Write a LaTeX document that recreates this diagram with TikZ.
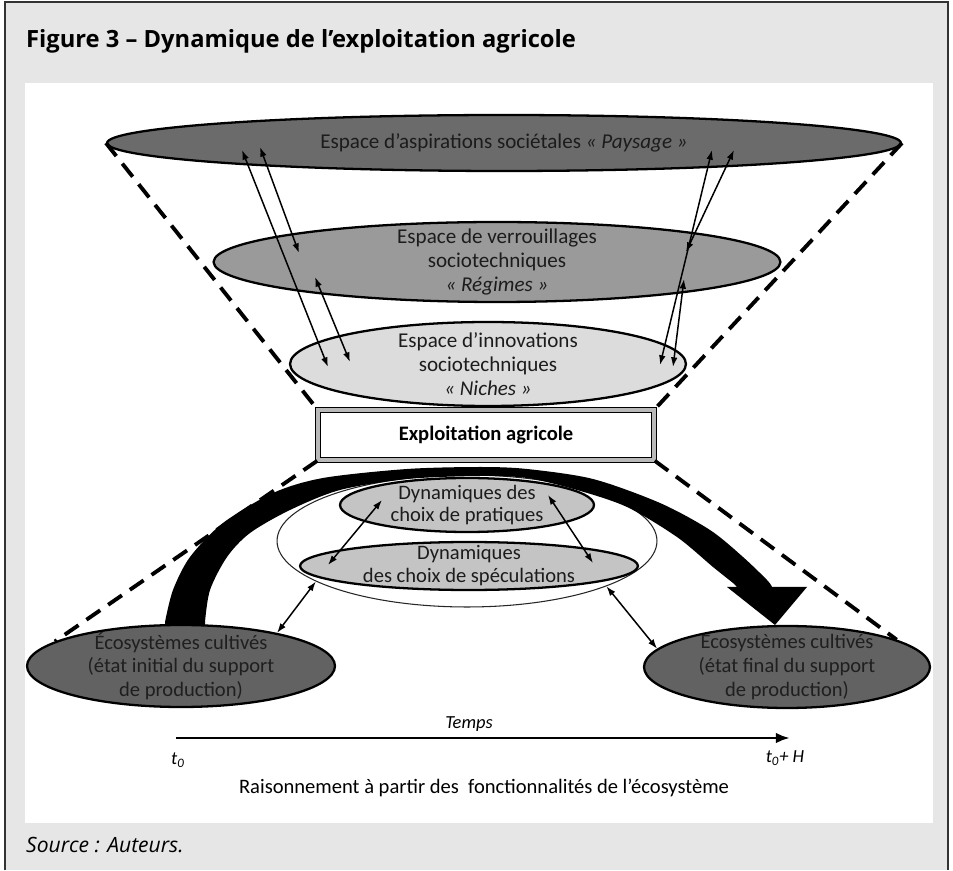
\documentclass[tikz,border=0pt]{standalone}
\usepackage{fontspec}
\setmainfont{Carlito}
\newfontfamily\titlefont{Open Sans}
\usepackage{xcolor}
\usepackage{tikz}
\usetikzlibrary{calc, shapes, arrows.meta, positioning}
\definecolor{frameGray}{HTML}{E6E6E6}
\definecolor{darkFill}{HTML}{6B6B6B}
\definecolor{ecoFill}{HTML}{626262}
\definecolor{midFill}{HTML}{9A9A9A}
\definecolor{lightFill}{HTML}{DCDCDC}
\definecolor{dynFill}{HTML}{C4C4C4}
\definecolor{inkGray}{HTML}{1C1C1C}

\begin{document}
\begin{tikzpicture}[
    x=0.02cm, y=-0.02cm,
    level/.style={ellipse, draw=black, line width=1.3pt, align=center, text=inkGray, inner xsep=0pt, inner ysep=-16pt, font=\fontsize{12}{13.6}\selectfont},
    dyn/.style={ellipse, draw=black, line width=1.3pt, fill=dynFill, align=center, text=inkGray, inner xsep=0pt, inner ysep=-16pt, font=\fontsize{11.7}{13}\selectfont},
    eco/.style={ellipse, draw=black, line width=1.3pt, fill=ecoFill, align=center, text=black!88, inner xsep=0pt, inner ysep=-16pt, minimum height=1.64cm, font=\fontsize{11.7}{13.4}\selectfont},
    farm/.style={rectangle, draw=black, line width=0.9pt, double=gray!55, double distance=1.8pt, fill=white, minimum width=6.72cm, minimum height=1cm, font=\bfseries\fontsize{11.7}{13}\selectfont},
    funnel/.style={line width=2.2pt, dash pattern=on 9.5pt off 5.5pt},
    link/.style={{Latex[length=5.5pt,width=3.8pt]}-{Latex[length=5.5pt,width=3.8pt]}, line width=0.85pt},
    timeline/.style={-{Latex[length=8pt,width=6pt]}, line width=1.7pt}
]

% Frame
\fill[white] (0,0) rectangle (953,870);
\fill[frameGray] (5,2) rectangle (948,870);
\draw[line width=0.8pt, black!80] (5,870) -- (5,2) -- (948,2) -- (948,870);
\fill[white] (25,83) rectangle (933,823);
\useasboundingbox (0,0) rectangle (953,870);

\node[anchor=base west, font=\titlefont\bfseries\fontsize{13.5}{16}\selectfont] (titre) at (20,48) {Figure 3 – Dynamique de l’exploitation agricole};
\node[anchor=base west, font=\titlefont\itshape\fontsize{12}{14}\selectfont] (source) at (20,852) {Source : Auteurs.};

% Nodes
\node[level, fill=darkFill, minimum width=15.88cm, minimum height=1.12cm] (paysage) at (504,143) {Espace d’aspirations sociétales \textit{«~Paysage~»}};
\node[level, fill=midFill, minimum width=11.34cm, minimum height=1.6cm] (regimes) at (497,262) {Espace de verrouillages\\sociotechniques\\\textit{«~Régimes~»}};
\node[level, fill=lightFill, minimum width=7.92cm, minimum height=1.68cm] (niches) at (488,364) {Espace d’innovations\\sociotechniques\\\textit{«~Niches~»}};

\node[farm] (exploitation) at (486,435) {Exploitation agricole};

\node[ellipse, draw=black!85, line width=0.6pt, minimum width=7.6cm, minimum height=2.64cm] (cadre) at (467,541) {};

% Big arrow
\fill[black] (165,640) -- plot[smooth] coordinates {(165,622) (173,590) (190,557) (223,523) (273,493) (323,478) (407,469) (480,467) (527,469) (593,479) (660,503) (710,530) (743,557) (767,580) (772,587)}
  -- (807,587) -- (775,625) -- (727,587) -- (737,587)
  -- plot[smooth] coordinates {(737,587) (733,583) (713,567) (677,537) (627,507) (577,490) (527,478) (480,476) (407,479) (340,490) (290,510) (250,533) (227,557) (210,590) (205,622)}
  -- (205,640) -- cycle;

\node[dyn, minimum width=5.08cm, minimum height=1.08cm] (pratiques) at (467,505) {Dynamiques des\\choix de pratiques};
\node[dyn, minimum width=6.76cm, minimum height=0.96cm] (speculations) at (469,566) {Dynamiques\\des choix de spéculations};

\node[eco, minimum width=6.16cm] (ecoInit) at (181,666) {Écosystèmes cultivés\\(état initial du support\\de production)};
\node[eco, minimum width=5.72cm] (ecoFinal) at (787,667) {Ecosystèmes cultivés\\(état final du support\\de production)};

% Funnel
\draw[funnel] (paysage.west) -- (exploitation.north west);
\draw[funnel] (paysage.east) -- (exploitation.north east);
\draw[funnel] (exploitation.south west) -- (ecoInit.169);
\draw[funnel] (exploitation.south east) -- (ecoFinal.14);

% Edges
\draw[link] ([shift={(-262,7)}]paysage.center) -- ([shift={(-160,3)}]niches.center);
\draw[link] ([shift={(-244,4)}]paysage.center) -- ([shift={(-198,-9)}]regimes.center);
\draw[link] ([shift={(-182,15)}]regimes.center) -- ([shift={(-138,-2)}]niches.center);
\draw[link] ([shift={(208,7)}]paysage.center) -- ([shift={(172,1)}]niches.center);
\draw[link] ([shift={(230,7)}]paysage.center) -- ([shift={(189,-10)}]regimes.center);
\draw[link] ([shift={(187,17)}]regimes.center) -- ([shift={(185,3)}]niches.center);

\draw[link] ([shift={(-85,-5)}]pratiques.center) -- ([shift={(-141,-1)}]speculations.center);
\draw[link] ([shift={(81,-10)}]pratiques.center) -- ([shift={(124,-3)}]speculations.center);
\draw[link] (ecoInit.19) -- (cadre.195);
\draw[link] (cadre.342) -- (ecoFinal.172);

% Time axis
\coordinate (debut) at (176,738);
\coordinate (fin) at (790,738);
\draw[timeline] (debut) -- (fin);
\node[font=\itshape\fontsize{10.5}{12}\selectfont] (temps) at (469,724) {Temps};
\node[font=\itshape\fontsize{10.5}{12}\selectfont] (t0) at (178,760) {t\textsubscript{0}};
\node[font=\itshape\fontsize{10.5}{12}\selectfont] (tH) at (785,758) {t\textsubscript{0}+ H};
\node[font=\fontsize{11.7}{13}\selectfont] (raison) at (484,788) {Raisonnement à partir des\ \ fonctionnalités de l’écosystème};

\end{tikzpicture}
\end{document}
